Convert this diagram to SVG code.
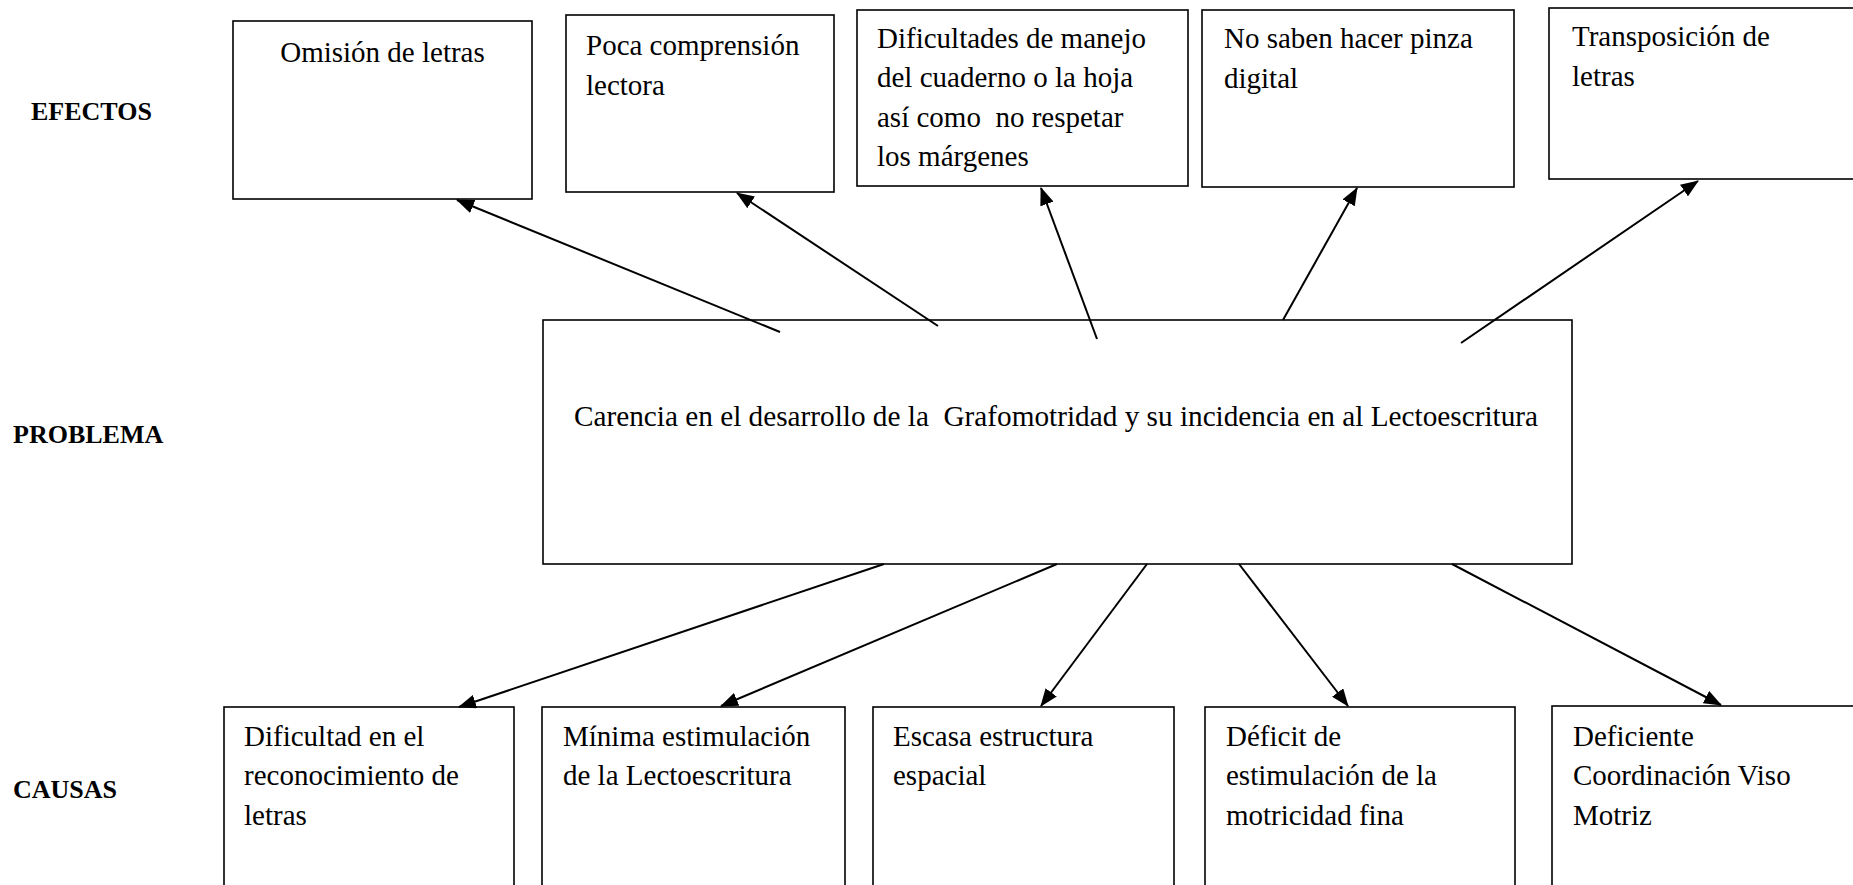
<svg xmlns="http://www.w3.org/2000/svg" width="1853" height="885" viewBox="0 0 1853 885">
<style>
.box{fill:#fff;stroke:#000;stroke-width:1.6}
.t{font-family:"Liberation Serif","Times New Roman",serif;font-size:29px;fill:#000}
.lab{font-family:"Liberation Serif","Times New Roman",serif;font-size:26px;font-weight:bold;fill:#000}
.arr{stroke:#000;stroke-width:2;fill:none;marker-end:url(#ah)}
</style>
<defs>
<marker id="ah" markerUnits="userSpaceOnUse" markerWidth="18" markerHeight="14" viewBox="0 0 18 14" refX="17" refY="7" orient="auto">
<path d="M0,0 L18,7 L0,14 z" fill="#000"/>
</marker>
</defs>
<rect width="1853" height="885" fill="#fff"/>
<g id="labels">
<text class="lab" x="31" y="120">EFECTOS</text>
<text class="lab" x="13" y="443">PROBLEMA</text>
<text class="lab" x="13" y="798">CAUSAS</text>
</g>
<g id="efecto1"><rect class="box" x="233" y="21" width="299" height="178"/><text class="t" x="382.5" y="62" text-anchor="middle">Omisión de letras</text></g>
<g id="efecto2"><rect class="box" x="566" y="15" width="268" height="177"/><text class="t" x="586" y="55">Poca comprensión</text><text class="t" x="586" y="94.5">lectora</text></g>
<g id="efecto3"><rect class="box" x="857" y="10" width="331" height="176"/><text class="t" x="877" y="47.5">Dificultades de manejo</text><text class="t" x="877" y="87">del cuaderno o la hoja</text><text class="t" x="877" y="126.5" xml:space="preserve">así como  no respetar</text><text class="t" x="877" y="166">los márgenes</text></g>
<g id="efecto4"><rect class="box" x="1202" y="10" width="312" height="177"/><text class="t" x="1224" y="48">No saben hacer pinza</text><text class="t" x="1224" y="87.5">digital</text></g>
<g id="efecto5"><rect class="box" x="1549" y="8" width="310" height="171"/><text class="t" x="1572" y="46">Transposición de</text><text class="t" x="1572" y="85.5">letras</text></g>
<g id="problema"><rect class="box" x="543" y="320" width="1029" height="244"/><text class="t" x="574" y="426" textLength="964" lengthAdjust="spacingAndGlyphs" xml:space="preserve">Carencia en el desarrollo de la  Grafomotridad y su incidencia en al Lectoescritura</text></g>
<g id="causa1"><rect class="box" x="224" y="707" width="290" height="200"/><text class="t" x="244" y="745.5">Dificultad en el</text><text class="t" x="244" y="785">reconocimiento de</text><text class="t" x="244" y="824.5">letras</text></g>
<g id="causa2"><rect class="box" x="542" y="707" width="303" height="200"/><text class="t" x="563" y="745.5">Mínima estimulación</text><text class="t" x="563" y="785">de la Lectoescritura</text></g>
<g id="causa3"><rect class="box" x="873" y="707" width="301" height="200"/><text class="t" x="893" y="745.5">Escasa estructura</text><text class="t" x="893" y="785">espacial</text></g>
<g id="causa4"><rect class="box" x="1205" y="707" width="310" height="200"/><text class="t" x="1226" y="745.5">Déficit de</text><text class="t" x="1226" y="785">estimulación de la</text><text class="t" x="1226" y="824.5">motricidad fina</text></g>
<g id="causa5"><rect class="box" x="1552" y="706" width="310" height="200"/><text class="t" x="1573" y="745.5">Deficiente</text><text class="t" x="1573" y="785">Coordinación Viso</text><text class="t" x="1573" y="824.5">Motriz</text></g>
<g id="connectors">
<line class="arr" x1="780" y1="332" x2="457" y2="200"/>
<line class="arr" x1="938" y1="326" x2="737" y2="193"/>
<line class="arr" x1="1097" y1="339" x2="1041" y2="188"/>
<line class="arr" x1="1283" y1="320" x2="1357" y2="188"/>
<line class="arr" x1="1461" y1="343" x2="1698" y2="181"/>
<line class="arr" x1="884" y1="564" x2="459" y2="707"/>
<line class="arr" x1="1057" y1="564" x2="721" y2="706"/>
<line class="arr" x1="1147" y1="564" x2="1041" y2="706"/>
<line class="arr" x1="1239" y1="564" x2="1348" y2="706"/>
<line class="arr" x1="1452" y1="564" x2="1721" y2="705"/>
</g>
</svg>
